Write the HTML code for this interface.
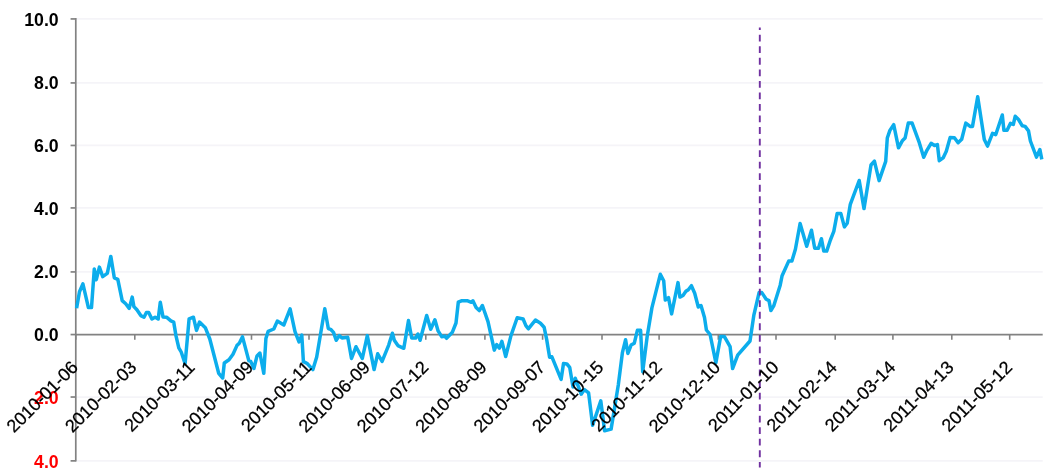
<!DOCTYPE html>
<html><head><meta charset="utf-8"><title>chart</title>
<style>html,body{margin:0;padding:0;background:#fff;overflow:hidden}svg{display:block}text{font-family:"Liberation Sans",Arial,Helvetica,sans-serif}</style></head><body>
<svg width="1053" height="474" viewBox="0 0 1053 474">
<rect width="1053" height="474" fill="#fff"/>
<line x1="75.78" x2="1042.7" y1="18.93" y2="18.93" stroke="#F5F4F8" stroke-width="1.8"/>
<line x1="75.78" x2="1042.7" y1="82.93" y2="82.93" stroke="#F5F4F8" stroke-width="1.8"/>
<line x1="75.78" x2="1042.7" y1="145.45" y2="145.45" stroke="#F5F4F8" stroke-width="1.8"/>
<line x1="75.78" x2="1042.7" y1="207.93" y2="207.93" stroke="#F5F4F8" stroke-width="1.8"/>
<line x1="75.78" x2="1042.7" y1="271.93" y2="271.93" stroke="#F5F4F8" stroke-width="1.8"/>
<line x1="75.78" x2="1042.7" y1="397.03" y2="397.03" stroke="#F5F4F8" stroke-width="1.8"/>
<line x1="75.78" x2="1042.7" y1="460.87" y2="460.87" stroke="#F5F4F8" stroke-width="1.8"/>
<line x1="75.78" x2="75.78" y1="17.90" y2="461.60" stroke="#828282" stroke-width="1.7"/>
<line x1="75.78" x2="1042.7" y1="334.56" y2="334.56" stroke="#828282" stroke-width="1.7"/>
<line x1="70.58" x2="75.78" y1="18.93" y2="18.93" stroke="#828282" stroke-width="1.7"/>
<line x1="70.58" x2="75.78" y1="82.93" y2="82.93" stroke="#828282" stroke-width="1.7"/>
<line x1="70.58" x2="75.78" y1="145.45" y2="145.45" stroke="#828282" stroke-width="1.7"/>
<line x1="70.58" x2="75.78" y1="207.93" y2="207.93" stroke="#828282" stroke-width="1.7"/>
<line x1="70.58" x2="75.78" y1="271.93" y2="271.93" stroke="#828282" stroke-width="1.7"/>
<line x1="70.58" x2="75.78" y1="334.56" y2="334.56" stroke="#828282" stroke-width="1.7"/>
<line x1="70.58" x2="75.78" y1="397.03" y2="397.03" stroke="#828282" stroke-width="1.7"/>
<line x1="70.58" x2="75.78" y1="460.87" y2="460.87" stroke="#828282" stroke-width="1.7"/>
<line x1="75.78" x2="75.78" y1="334.56" y2="339.76" stroke="#828282" stroke-width="1.6"/>
<line x1="134.79" x2="134.79" y1="334.56" y2="339.76" stroke="#828282" stroke-width="1.6"/>
<line x1="192.20" x2="192.20" y1="334.56" y2="339.76" stroke="#828282" stroke-width="1.6"/>
<line x1="251.50" x2="251.50" y1="334.56" y2="339.76" stroke="#828282" stroke-width="1.6"/>
<line x1="309.00" x2="309.00" y1="334.56" y2="339.76" stroke="#828282" stroke-width="1.6"/>
<line x1="367.60" x2="367.60" y1="334.56" y2="339.76" stroke="#828282" stroke-width="1.6"/>
<line x1="425.80" x2="425.80" y1="334.56" y2="339.76" stroke="#828282" stroke-width="1.6"/>
<line x1="484.90" x2="484.90" y1="334.56" y2="339.76" stroke="#828282" stroke-width="1.6"/>
<line x1="542.60" x2="542.60" y1="334.56" y2="339.76" stroke="#828282" stroke-width="1.6"/>
<line x1="602.00" x2="602.00" y1="334.56" y2="339.76" stroke="#828282" stroke-width="1.6"/>
<line x1="659.10" x2="659.10" y1="334.56" y2="339.76" stroke="#828282" stroke-width="1.6"/>
<line x1="718.30" x2="718.30" y1="334.56" y2="339.76" stroke="#828282" stroke-width="1.6"/>
<line x1="776.00" x2="776.00" y1="334.56" y2="339.76" stroke="#828282" stroke-width="1.6"/>
<line x1="835.20" x2="835.20" y1="334.56" y2="339.76" stroke="#828282" stroke-width="1.6"/>
<line x1="892.90" x2="892.90" y1="334.56" y2="339.76" stroke="#828282" stroke-width="1.6"/>
<line x1="951.80" x2="951.80" y1="334.56" y2="339.76" stroke="#828282" stroke-width="1.6"/>
<line x1="1009.70" x2="1009.70" y1="334.56" y2="339.76" stroke="#828282" stroke-width="1.6"/>
<polyline fill="none" stroke="#0CADEC" stroke-width="3.5" stroke-linejoin="round" stroke-linecap="butt" points="76.6,308.2 79.5,291.8 82.9,283.9 88.4,307.6 91.5,307.6 94.3,269.0 96.3,279.7 99.4,267.1 102.7,276.6 107.3,273.4 110.8,256.4 114.3,277.8 117.8,279.4 122.2,300.6 125.7,303.8 129.2,308.4 132.2,297.1 133.9,306.6 136.9,309.8 140.8,315.6 144.0,317.2 146.4,312.5 148.7,312.5 151.9,319.0 155.1,317.2 158.2,319.0 160.3,302.3 163.0,316.9 166.5,317.2 170.9,320.9 173.7,322.1 176.0,335.9 178.8,347.8 181.2,352.0 185.1,363.6 189.1,318.8 193.4,317.2 196.5,330.4 199.5,322.1 205.3,327.7 209.8,339.0 218.7,373.3 222.7,378.0 224.3,363.0 229.0,359.8 233.0,354.3 236.9,345.6 239.3,343.2 242.5,336.9 248.8,360.6 250.7,361.4 253.9,368.5 257.0,355.9 259.9,353.0 263.8,373.3 265.9,338.5 268.1,331.4 273.8,329.0 277.3,321.1 283.8,325.0 290.1,308.9 295.0,331.6 299.0,341.9 301.8,335.1 303.4,361.7 306.9,363.3 312.9,369.6 316.7,357.0 324.8,308.7 328.3,328.5 330.6,329.3 333.5,332.4 336.2,340.3 339.3,335.6 342.0,338.0 347.7,337.2 351.5,358.5 356.0,346.7 362.3,358.5 367.3,335.6 374.1,369.6 377.7,353.8 382.1,361.4 388.7,345.1 392.4,333.2 394.3,340.3 397.9,345.6 403.8,348.3 408.5,320.6 411.7,338.0 415.6,338.0 418.0,334.0 420.1,340.3 426.7,315.5 430.7,329.3 434.9,319.8 438.1,330.9 441.7,336.7 444.9,336.1 446.5,338.3 452.4,332.2 456.0,323.0 458.3,302.2 461.4,300.8 467.7,300.8 471.4,302.3 472.9,300.8 476.1,307.4 479.3,310.6 482.4,305.5 488.0,321.6 494.3,350.1 496.7,344.6 499.4,348.2 501.9,341.4 505.7,356.5 510.9,335.9 517.2,317.7 523.1,319.0 525.9,325.6 528.3,328.8 535.4,320.1 540.5,323.3 544.1,327.2 546.7,339.6 549.6,357.2 551.9,356.8 561.1,379.4 563.5,363.6 566.9,364.0 569.7,367.3 573.0,387.0 575.3,378.3 581.2,394.2 584.4,389.6 588.6,392.9 592.6,425.2 600.8,400.9 604.6,430.8 611.1,429.1 618.3,385.0 622.4,352.7 625.6,339.7 627.9,353.5 631.1,345.1 634.3,343.2 637.4,330.3 640.6,330.3 642.7,371.7 647.1,337.0 651.9,307.9 660.3,274.3 663.7,280.7 665.3,300.0 668.5,297.6 671.6,313.9 678.0,282.6 679.9,297.1 683.0,295.5 685.9,291.3 688.3,289.7 691.4,285.7 694.7,293.2 698.3,307.0 701.0,305.5 704.5,317.5 706.4,330.0 710.1,334.5 715.9,362.8 720.6,336.6 724.4,336.6 730.1,346.7 732.6,368.5 737.7,355.2 750.0,341.0 753.8,315.4 759.1,292.6 761.8,292.6 766.2,299.2 769.0,300.6 770.9,310.6 773.7,305.9 780.2,285.2 782.1,275.7 788.7,261.1 791.9,261.1 795.4,249.2 800.1,223.5 806.7,246.3 811.5,230.2 814.7,248.2 818.5,248.2 821.4,238.7 823.8,251.1 826.7,251.1 830.4,240.0 833.8,231.4 837.2,213.4 840.8,213.4 844.4,226.9 847.2,223.3 850.3,204.3 859.2,180.5 864.0,208.6 871.0,165.0 874.4,161.1 879.1,180.6 885.7,161.4 887.3,138.0 889.9,130.4 893.7,124.7 898.5,147.8 902.3,140.8 905.1,138.0 908.3,123.1 912.1,123.1 919.3,142.7 923.7,157.3 926.9,150.3 931.1,143.3 934.5,145.5 937.4,144.6 939.3,160.7 943.1,157.9 946.3,151.2 950.1,137.6 954.4,137.7 958.1,142.8 961.7,139.3 965.8,123.1 970.1,126.4 972.5,126.4 977.7,96.8 984.3,139.6 987.5,146.1 992.5,133.4 995.7,134.7 1002.3,115.0 1003.9,130.2 1007.1,130.2 1010.5,123.3 1013.3,124.5 1015.2,116.3 1018.5,119.5 1022.3,125.8 1025.1,126.4 1028.5,130.9 1030.4,141.0 1036.5,157.1 1039.9,149.5 1041.8,159.4"/>
<line x1="759.8" x2="759.8" y1="27.4" y2="467.5" stroke="#7030A0" stroke-width="1.9" stroke-dasharray="6.8 4.745" stroke-dashoffset="4.2"/>
<text x="58.7" y="25.63" text-anchor="end" font-size="17.7" font-weight="bold" fill="#000">10.0</text>
<text x="58.7" y="88.76" text-anchor="end" font-size="17.7" font-weight="bold" fill="#000">8.0</text>
<text x="58.7" y="151.90" text-anchor="end" font-size="17.7" font-weight="bold" fill="#000">6.0</text>
<text x="58.7" y="215.03" text-anchor="end" font-size="17.7" font-weight="bold" fill="#000">4.0</text>
<text x="58.7" y="278.17" text-anchor="end" font-size="17.7" font-weight="bold" fill="#000">2.0</text>
<text x="58.7" y="341.30" text-anchor="end" font-size="17.7" font-weight="bold" fill="#000">0.0</text>
<text x="58.7" y="404.43" text-anchor="end" font-size="17.7" font-weight="bold" fill="#FF0000">2.0</text>
<text x="58.7" y="467.57" text-anchor="end" font-size="17.7" font-weight="bold" fill="#FF0000">4.0</text>
<text transform="translate(79.18,368.46) rotate(-45)" text-anchor="end" font-size="18.0" fill="#000" stroke="#000" stroke-width="0.25">2010-01-06</text>
<text transform="translate(137.56,368.46) rotate(-45)" text-anchor="end" font-size="18.0" fill="#000" stroke="#000" stroke-width="0.25">2010-02-03</text>
<text transform="translate(195.94,368.46) rotate(-45)" text-anchor="end" font-size="18.0" fill="#000" stroke="#000" stroke-width="0.25">2010-03-11</text>
<text transform="translate(254.32,368.46) rotate(-45)" text-anchor="end" font-size="18.0" fill="#000" stroke="#000" stroke-width="0.25">2010-04-09</text>
<text transform="translate(312.70,368.46) rotate(-45)" text-anchor="end" font-size="18.0" fill="#000" stroke="#000" stroke-width="0.25">2010-05-11</text>
<text transform="translate(371.08,368.46) rotate(-45)" text-anchor="end" font-size="18.0" fill="#000" stroke="#000" stroke-width="0.25">2010-06-09</text>
<text transform="translate(429.46,368.46) rotate(-45)" text-anchor="end" font-size="18.0" fill="#000" stroke="#000" stroke-width="0.25">2010-07-12</text>
<text transform="translate(487.84,368.46) rotate(-45)" text-anchor="end" font-size="18.0" fill="#000" stroke="#000" stroke-width="0.25">2010-08-09</text>
<text transform="translate(546.22,368.46) rotate(-45)" text-anchor="end" font-size="18.0" fill="#000" stroke="#000" stroke-width="0.25">2010-09-07</text>
<text transform="translate(604.60,368.46) rotate(-45)" text-anchor="end" font-size="18.0" fill="#000" stroke="#000" stroke-width="0.25">2010-10-15</text>
<text transform="translate(662.98,368.46) rotate(-45)" text-anchor="end" font-size="18.0" fill="#000" stroke="#000" stroke-width="0.25">2010-11-12</text>
<text transform="translate(721.36,368.46) rotate(-45)" text-anchor="end" font-size="18.0" fill="#000" stroke="#000" stroke-width="0.25">2010-12-10</text>
<text transform="translate(779.74,368.46) rotate(-45)" text-anchor="end" font-size="18.0" fill="#000" stroke="#000" stroke-width="0.25">2011-01-10</text>
<text transform="translate(838.12,368.46) rotate(-45)" text-anchor="end" font-size="18.0" fill="#000" stroke="#000" stroke-width="0.25">2011-02-14</text>
<text transform="translate(896.50,368.46) rotate(-45)" text-anchor="end" font-size="18.0" fill="#000" stroke="#000" stroke-width="0.25">2011-03-14</text>
<text transform="translate(954.88,368.46) rotate(-45)" text-anchor="end" font-size="18.0" fill="#000" stroke="#000" stroke-width="0.25">2011-04-13</text>
<text transform="translate(1013.26,368.46) rotate(-45)" text-anchor="end" font-size="18.0" fill="#000" stroke="#000" stroke-width="0.25">2011-05-12</text>
</svg></body></html>
